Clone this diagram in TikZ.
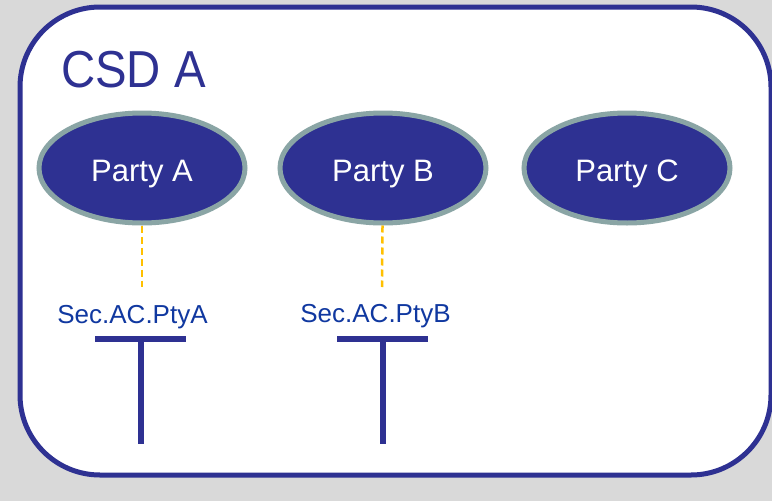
\documentclass[tikz,border=0pt]{standalone}
\usepackage{fontspec}
\setmainfont{Liberation Sans}
\usetikzlibrary{shapes.geometric}

\definecolor{navy}{RGB}{46,49,146}
\definecolor{rim}{RGB}{138,165,165}
\definecolor{secblue}{RGB}{16,56,160}
\definecolor{bggray}{RGB}{217,217,217}
\definecolor{gold}{RGB}{255,192,0}

\begin{document}
\begin{tikzpicture}[x=1pt,y=-1pt]
    \tikzstyle{party}=[ellipse, draw=rim, line width=5pt, fill=navy, minimum width=206pt, minimum height=110pt, inner sep=0pt, text=white, font=\fontsize{31}{31}\selectfont, text height=26pt, text depth=0pt]
    \tikzstyle{sec}=[anchor=base, inner sep=0pt, text=secblue, font=\fontsize{26}{26}\selectfont]
    \tikzstyle{link}=[gold, line width=2.5pt, dash pattern=on 7pt off 4pt]
    \tikzstyle{tbar}=[navy, line width=6pt]

    \useasboundingbox (0,0) rectangle (772,501);
    \fill[bggray] (0,0) rectangle (772,501);
    \draw[navy, line width=5pt, fill=white, rounded corners=80pt] (20,7) rectangle (771,475);

    \node[anchor=base west, inner sep=0pt, text=navy, font=\fontsize{52}{52}\selectfont] (csd) at (61,87) {\scalebox{0.91}[1]{CSD A}};

    \node[party] (ptyA) at (142,168) {Party A};
    \node[party] (ptyB) at (383,168) {Party B};
    \node[party] (ptyC) at (627,168) {Party C};

    \coordinate (tipA) at (142,287);
    \coordinate (tipB) at (382,287);
    \draw[link] (ptyA) -- (tipA);
    \draw[link] (ptyB) -- (tipB);

    \node[sec] (secA) at (132.5,323) {Sec.AC.PtyA};
    \node[sec] (secB) at (375.5,322) {Sec.AC.PtyB};

    \coordinate (barAl) at (95,338.5);
    \coordinate (barAr) at (186,338.5);
    \coordinate (jointA) at (141,338.5);
    \coordinate (footA) at (141,444);
    \draw[tbar] (barAl) -- (barAr);
    \draw[tbar] (jointA) -- (footA);

    \coordinate (barBl) at (337,339);
    \coordinate (barBr) at (428,339);
    \coordinate (jointB) at (383,339);
    \coordinate (footB) at (383,444);
    \draw[tbar] (barBl) -- (barBr);
    \draw[tbar] (jointB) -- (footB);
\end{tikzpicture}
\end{document}
